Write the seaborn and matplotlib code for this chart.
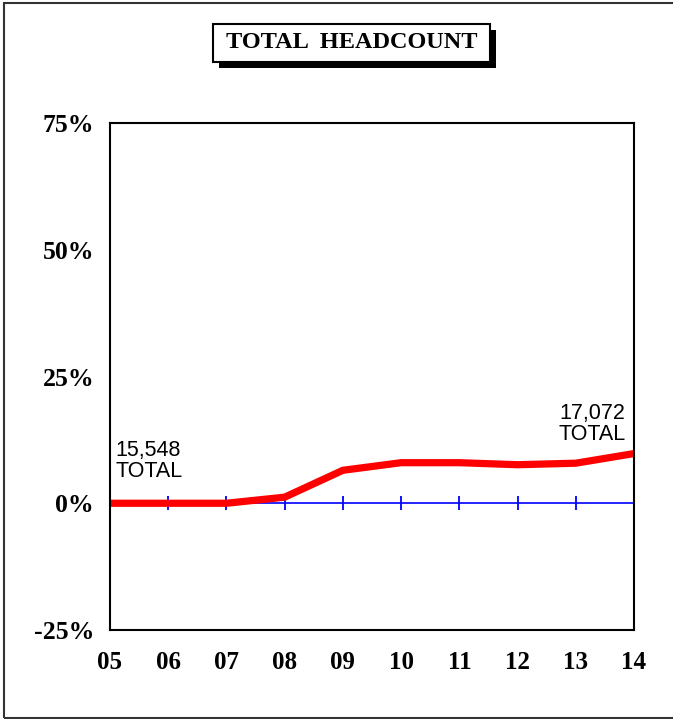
import seaborn as sns
import pandas as pd
import matplotlib
matplotlib.use("Agg")
from matplotlib import pyplot as plt
from matplotlib.patches import Rectangle


years = ["05", "06", "07", "08", "09", "10", "11", "12", "13", "14"]
growth = [0.0, 0.0, 0.0, 1.2, 6.5, 8.0, 8.0, 7.6, 7.9, 9.8]
y_ticks = [-25, 0, 25, 50, 75]
y_labels = ["-25%", "0%", "25%", "50%", "75%"]
start_label = "15,548\nTOTAL"
end_label = "17,072\nTOTAL"

sns.set_style("white")
plt.rcParams["font.family"] = ["Liberation Serif", "DejaVu Serif"]
plt.rcParams["text.color"] = "black"
plt.rcParams["xtick.color"] = "black"
plt.rcParams["ytick.color"] = "black"

data_frame = pd.DataFrame({"idx": range(len(years)), "growth": growth})

fig = plt.figure(figsize=(6.73, 7.19), dpi=100)
ax = fig.add_axes([110 / 673, 1 - 630 / 719, 524 / 673, 507 / 719])

# zero line with little tick crosses
ax.plot(data_frame["idx"], [0] * len(years), color="#0000ff", lw=1.2,
        marker="|", markersize=9.5, markeredgewidth=1.3, zorder=2,
        clip_on=False)

sns.lineplot(x="idx", y="growth", data=data_frame, ax=ax, color="#ff0000",
             lw=5.2, zorder=3, solid_joinstyle="round")

ax.set_xlim(0, len(years) - 1)
ax.set_ylim(-25, 75)
ax.set_xticks(range(len(years)))
ax.set_xticklabels(years, fontsize=18, fontweight="bold", color="black")
ax.set_yticks(y_ticks)
ax.set_yticklabels(y_labels, fontsize=18.5, fontweight="bold", color="black")
ax.tick_params(axis="both", length=0)
ax.tick_params(axis="y", pad=11.5)
ax.tick_params(axis="x", pad=15)
ax.set_xlabel("")
ax.set_ylabel("")
for sp in ax.spines.values():
    sp.set_visible(True)
    sp.set_color("black")
    sp.set_linewidth(1.5)
    sp.set_zorder(4)

ax.text(0.1, 12.4, start_label, ha="left", va="top", fontsize=15.5,
        family=["Liberation Sans", "DejaVu Sans"], linespacing=1.0,
        color="black")
ax.text(8.85, 19.8, end_label, ha="right", va="top", fontsize=15.5,
        family=["Liberation Sans", "DejaVu Sans"], linespacing=1.0,
        color="black")

# title box with shadow
W, H = 673, 719
fig.patches.append(Rectangle((219 / W, 1 - 68 / H), 277 / W, 38 / H,
                             transform=fig.transFigure, facecolor="black",
                             edgecolor="none", zorder=1))
fig.patches.append(Rectangle((213 / W, 1 - 62 / H), 277 / W, 38 / H,
                             transform=fig.transFigure, facecolor="white",
                             edgecolor="black", lw=1.5, zorder=2))
fig.text(352 / W, 1 - 43 / H, "TOTAL  HEADCOUNT", ha="center", va="center",
         fontsize=17.5, fontweight="bold", color="black", zorder=3)

# outer frame
fig.patches.append(Rectangle((3.5 / W, 1 - 717.5 / H), 700 / W, 715 / H,
                             transform=fig.transFigure, facecolor="none",
                             edgecolor="#333333", lw=1.5, zorder=0))

fig.savefig("out.png", dpi=100)
